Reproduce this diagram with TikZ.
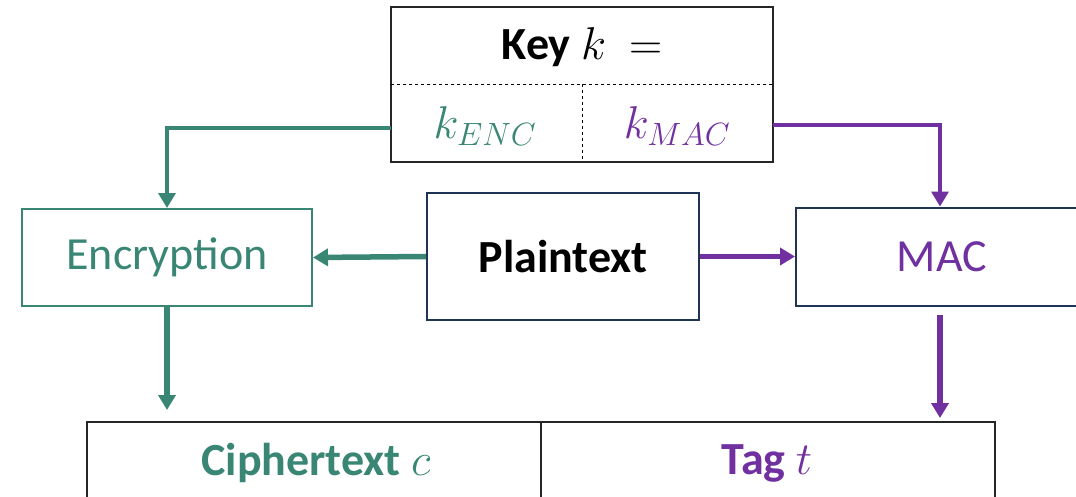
\RequirePackage{fix-cm}
\documentclass[tikz,border=0pt]{standalone}
\usepackage{fontspec}
\setmainfont{Carlito}
\usetikzlibrary{arrows.meta}
\definecolor{encteal}{RGB}{58,134,117}
\definecolor{macpurple}{RGB}{112,48,160}
\definecolor{navyline}{RGB}{31,51,84}
\tikzset{
  box/.style={draw, line width=2pt, inner sep=0pt},
  lbl/.style={font=\fontsize{46}{55}\selectfont},
  tip/.style={-{Triangle[length=15pt,width=17pt]}},
  keyarrow/.style={tip, line width=3.5pt},
  dataarrow/.style={tip, line width=5.5pt},
}
\begin{document}
\begin{tikzpicture}[x=1pt,y=-1pt]
\useasboundingbox (0,0) rectangle (1076,496);

% key box with its two halves
\node[box, draw=black!85, line width=1.6pt, minimum width=382pt, minimum height=155pt] (key) at (582,84.5) {};
\draw[dashed, line width=1pt] (391,84) -- (773,84);
\draw[dashed, line width=1pt] (582,84) -- (582,162);
\node[lbl] (keylbl) at (582,47) {\bfseries Key $k$\enspace$=$};
\node[lbl, text=encteal] (kenc) at (485,126) {$k_{ENC}$};
\node[lbl, text=macpurple] (kmac) at (677,126) {$k_{MAC}$};

% processing boxes
\node[box, draw=encteal, minimum width=290pt, minimum height=97pt, lbl, text=encteal] (enc) at (167,257.5) {Encryption};
\node[box, draw=navyline, minimum width=272pt, minimum height=127pt, lbl] (plain) at (563,256.5) {\bfseries Plaintext};
\node[box, draw=navyline, minimum width=292pt, minimum height=98pt, lbl, text=macpurple] (mac) at (942,256.5) {MAC};

% output record
\node[box, draw=black!85, line width=1.6pt, minimum width=908pt, minimum height=110pt] (out) at (541,477) {};
\draw[line width=1.6pt, black!85] (541,422) -- (541,532);
\node[lbl, text=encteal] (cipher) at (316,463) {\bfseries Ciphertext $c$};
\node[lbl, text=macpurple] (tag) at (767,463) {\bfseries Tag $t$};

% connectors
\coordinate (kencout) at (391,128);
\coordinate (kmacout) at (773,125);
\coordinate (encdown) at (167,410);
\coordinate (macstart) at (940,315);
\coordinate (macdown) at (940,418);

\draw[keyarrow, encteal] (kencout) -| (enc.north);
\draw[keyarrow, macpurple] (kmacout) -| ([xshift=-2pt]mac.north);
\draw[dataarrow, encteal] (plain.west) -- (enc.east);
\draw[dataarrow, macpurple] (plain.east) -- (mac.west);
\draw[dataarrow, encteal] (enc.south) -- (encdown);
\draw[dataarrow, macpurple] (macstart) -- (macdown);
\end{tikzpicture}
\end{document}
